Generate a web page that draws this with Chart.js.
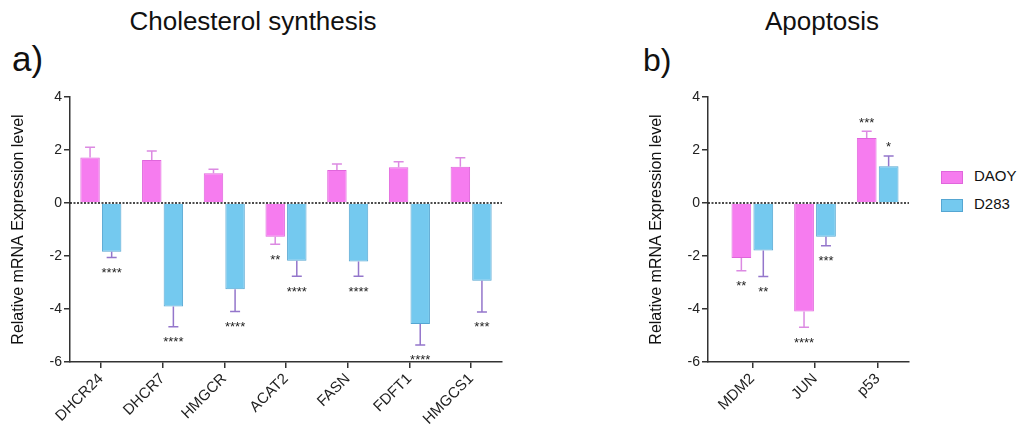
<!DOCTYPE html>
<html>
<head>
<meta charset="utf-8">
<script src="https://cdn.jsdelivr.net/npm/chart.js@4/dist/chart.umd.min.js"></script>
<style>
  html, body { margin:0; padding:0; background:#fff; }
  body { font-family: "Liberation Sans", Arial, sans-serif; color:#111; }
  #wrap { position:relative; width:1022px; height:426px; overflow:hidden; }
  .title { position:absolute; top:8px; font-size:26px; line-height:1; text-align:center; }
  .panel { position:absolute; top:44px; font-size:32px; line-height:1; }
  .box { position:absolute; top:0; height:426px; }
  .leg { position:absolute; left:941px; font-size:15px; line-height:1; }
  .leg span { display:inline-block; width:20px; height:11px; border:1px solid; vertical-align:middle; margin-right:11px; }
</style>
</head>
<body>
<div id="wrap">
  <div class="title" style="left:0;width:506px">Cholesterol synthesis</div>
  <div class="panel" style="left:12px;font-size:35px;top:41px">a)</div>
  <div class="title" style="left:722px;width:200px">Apoptosis</div>
  <div class="panel" style="left:643px">b)</div>
  <div class="box" style="left:0;width:520px"><canvas id="chartChol"></canvas></div>
  <div class="box" style="left:638px;width:290px"><canvas id="chartApop"></canvas></div>
  <div id="legend"></div>
</div>
<script>
// series labels
const SERIES = ["DAOY", "D283"];

// a) cholesterol synthesis
const cholGenes = ["DHCR24", "DHCR7", "HMGCR", "ACAT2", "FASN", "FDFT1", "HMGCS1"];
const cholDaoy = [1.72, 1.62, 1.12, -1.27, 1.25, 1.35, 1.37];
const cholDaoyErr = [0.38, 0.34, 0.15, 0.29, 0.22, 0.21, 0.34];
const cholDaoySig = ["", "", "", "**", "", "", ""];
const cholD283 = [-1.84, -3.91, -3.25, -2.18, -2.21, -4.57, -2.93];
const cholD283Err = [0.22, 0.76, 0.84, 0.58, 0.55, 0.79, 1.18];
const cholD283Sig = ["****", "****", "****", "****", "****", "****", "***"];

// b) apoptosis
const apopGenes = ["MDM2", "JUN", "p53"];
const apopDaoy = [-2.08, -4.09, 2.45];
const apopDaoyErr = [0.48, 0.60, 0.26];
const apopDaoySig = ["**", "****", "***"];
const apopD283 = [-1.79, -1.27, 1.39];
const apopD283Err = [0.98, 0.34, 0.38];
const apopD283Sig = ["**", "***", "*"];

const yTicks = [-6, -4, -2, 0, 2, 4];

const FONT = "'Liberation Sans', Arial, sans-serif";
const AXIS = "#333";
const colors = {
  DAOY: { fill: "#f67cef", border: "#e066dc", err: "#dc8ae2" },
  D283: { fill: "#74c9ef", border: "#55a6d2", err: "#9476cb" },
};

// error bars (one-sided, away from zero) + significance stars
const errorBars = {
  id: "errorBars",
  afterDatasetsDraw(chart){
    const {ctx, chartArea} = chart;
    const y = chart.scales.y;

    // dotted zero line
    const y0 = y.getPixelForValue(0);
    ctx.save();
    ctx.strokeStyle = "#111";
    ctx.lineWidth = 1.6;
    ctx.setLineDash([2, 1.5]);
    ctx.beginPath();
    ctx.moveTo(chartArea.left, y0);
    ctx.lineTo(chartArea.right, y0);
    ctx.stroke();
    ctx.restore();

    chart.data.datasets.forEach((ds, i) => {
      const meta = chart.getDatasetMeta(i);
      meta.data.forEach((bar, j) => {
        const v = ds.data[j];
        const e = ds.err[j];
        const end = v >= 0 ? v + e : v - e;
        const yv = y.getPixelForValue(v);
        const ye = y.getPixelForValue(end);
        ctx.save();
        ctx.strokeStyle = ds.errColor;
        ctx.lineWidth = 1.5;
        ctx.beginPath();
        ctx.moveTo(bar.x, yv);
        ctx.lineTo(bar.x, ye);
        ctx.moveTo(bar.x - 5, ye);
        ctx.lineTo(bar.x + 5, ye);
        ctx.stroke();

        const s = ds.sig[j];
        if(s){
          ctx.fillStyle = "#222";
          ctx.font = "13px " + FONT;
          ctx.textAlign = "center";
          ctx.textBaseline = "alphabetic";
          const base = v >= 0 ? ye - 12 + 7.4 : ye + 12 + 7.4;
          ctx.fillText(s, bar.x, base);
        }
        ctx.restore();
      });
    });
  }
};

// shifts the category area right of the y axis (gap like in the original)
const xGap = {
  id: "xGap",
  afterLayout(chart, args, opts){
    const s = opts && opts.shift;
    if(!s) return;
    const x = chart.scales.x;
    x._startPixel += s;
    x._length -= s;
  }
};

function makeChart(canvas, labels, daoy, daoyErr, daoySig, d283, d283Err, d283Sig, padRight, shift){
  return new Chart(canvas, {
    type: "bar",
    data: {
      labels,
      datasets: [
        { label: SERIES[0], data: daoy, err: daoyErr, sig: daoySig,
          backgroundColor: colors.DAOY.fill, borderColor: colors.DAOY.border, errColor: colors.DAOY.err,
          borderWidth: 1, barPercentage: 0.9, categoryPercentage: 0.7 },
        { label: SERIES[1], data: d283, err: d283Err, sig: d283Sig,
          backgroundColor: colors.D283.fill, borderColor: colors.D283.border, errColor: colors.D283.err,
          borderWidth: 1, barPercentage: 0.9, categoryPercentage: 0.7 },
      ]
    },
    options: {
      responsive: true,
      maintainAspectRatio: false,
      animation: false,
      devicePixelRatio: 1,
      layout: { padding: { top: 97, right: padRight, left: 0, bottom: 0 } },
      plugins: {
        legend: { display: false },
        tooltip: { enabled: false },
        xGap: { shift },
      },
      scales: {
        x: {
          afterFit: (sc) => { sc.height = 64; },
          grid: { drawOnChartArea: false, offset: false, tickLength: 6, color: AXIS, lineWidth: 1.5 },
          border: { color: AXIS, width: 1.5 },
          ticks: { minRotation: 45, maxRotation: 45, autoSkip: false, padding: 2,
                   color: "#222", font: { family: FONT, size: 15 } },
        },
        y: {
          min: -6, max: 4,
          afterFit: (sc) => { sc.width = 70; },
          afterBuildTicks: (sc) => { sc.ticks = yTicks.map(v => ({ value: v })); },
          grid: { drawOnChartArea: false, tickLength: 6, color: AXIS, lineWidth: 1.5 },
          border: { color: AXIS, width: 1.5 },
          ticks: { padding: 2, color: "#222", font: { family: FONT, size: 14 } },
          title: { display: true, text: "Relative mRNA Expression level", color: "#111",
                   padding: { top: 9, bottom: 0 }, font: { family: FONT, size: 16 } },
        }
      }
    },
    plugins: [errorBars, xGap]
  });
}

makeChart(document.getElementById("chartChol"), cholGenes,
  cholDaoy, cholDaoyErr, cholDaoySig, cholD283, cholD283Err, cholD283Sig, 18, 0);

makeChart(document.getElementById("chartApop"), apopGenes,
  apopDaoy, apopDaoyErr, apopDaoySig, apopD283, apopD283Err, apopD283Sig, 19, 13);

// legend
const legTop = [168, 196];
document.getElementById("legend").innerHTML = SERIES.map((name, i) => {
  const c = colors[name];
  return `<div class="leg" style="top:${legTop[i]}px"><span style="background:${c.fill};border-color:${c.border}"></span>${name}</div>`;
}).join("");
</script>
</body>
</html>
